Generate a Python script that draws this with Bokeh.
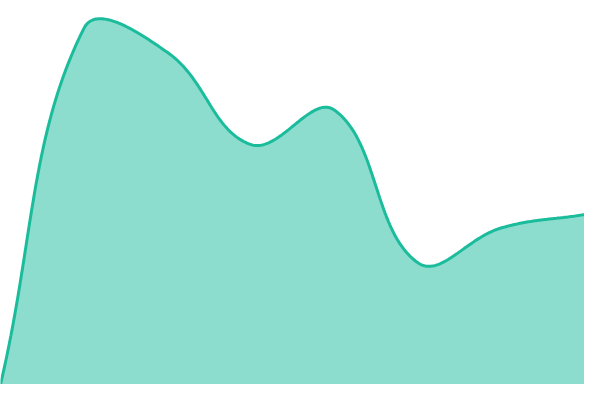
import numpy as np
from bokeh.plotting import figure
from bokeh.models import Range1d
from bokeh.embed import file_html
from bokeh.resources import INLINE

# data (evenly spaced samples)
x_idx = [0, 1, 2, 3, 4, 5, 6, 7]
values = [0, 371, 346, 250, 286, 127, 163, 177]

X_MAX = 7
Y_MAX = 400
TENSION = 0.4

def chartjs_spline(xs, ys, n=60):
    # work in a 600x400 "pixel" space, same as the chart area
    sx = 600.0 / X_MAX
    sy = 400.0 / Y_MAX
    P = [np.array([x * sx, (Y_MAX - y) * sy]) for x, y in zip(xs, ys)]
    prev_cp, next_cp = [], []
    for i, c in enumerate(P):
        p = P[i - 1] if i > 0 else c
        nx = P[i + 1] if i < len(P) - 1 else c
        d01 = np.hypot(*(c - p))
        d12 = np.hypot(*(nx - c))
        s01 = d01 / (d01 + d12) if d01 + d12 > 0 else 0
        s12 = d12 / (d01 + d12) if d01 + d12 > 0 else 0
        fa, fb = TENSION * s01, TENSION * s12
        pc = c - fa * (nx - p)
        ncp = c + fb * (nx - p)
        pc = np.array([min(max(pc[0], 0), 600), min(max(pc[1], 0), 400)])
        ncp = np.array([min(max(ncp[0], 0), 600), min(max(ncp[1], 0), 400)])
        prev_cp.append(pc); next_cp.append(ncp)
    t = np.linspace(0, 1, n, endpoint=False)[:, None]
    pts = []
    for i in range(len(P) - 1):
        p0, c1, c2, p3 = P[i], next_cp[i], prev_cp[i + 1], P[i + 1]
        b = (1 - t) ** 3 * p0 + 3 * (1 - t) ** 2 * t * c1 + 3 * (1 - t) * t ** 2 * c2 + t ** 3 * p3
        pts.append(b)
    pts.append(P[-1][None, :])
    pts = np.vstack(pts)
    return pts[:, 0] / sx, Y_MAX - pts[:, 1] / sy

cx, cy = chartjs_spline(x_idx, values)

p = figure(width=584, height=384, output_backend="svg", toolbar_location=None,
           x_range=Range1d(0, X_MAX), y_range=Range1d(0, Y_MAX),
           min_border=0, min_border_left=0, min_border_right=0,
           min_border_top=0, min_border_bottom=0)
p.axis.visible = False
p.grid.visible = False
p.outline_line_color = None
p.background_fill_color = "white"
p.border_fill_color = "white"

p.varea(x=cx, y1=np.zeros_like(cy), y2=cy, fill_color="#1abc9c", fill_alpha=0.5)
p.line(x=cx, y=cy, line_color="#1abc9c", line_width=3)

open("out.html", "w").write(file_html(p, INLINE))
